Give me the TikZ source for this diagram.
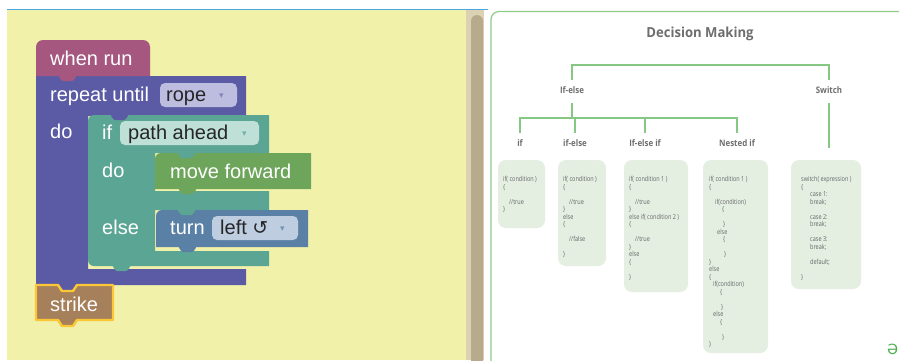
\documentclass[tikz,border=0pt]{standalone}
\usepackage{fontspec}
\newfontfamily\blk{Liberation Sans}
\newfontfamily\dejavu{DejaVu Sans}
\newfontfamily\otitle[FakeStretch=0.95]{Open Sans}
\newfontfamily\olab[FakeStretch=0.88]{Open Sans}
\newfontfamily\ocode[FakeStretch=0.8]{Open Sans}

\definecolor{workspace}{HTML}{F1F1AA}
\definecolor{topline}{HTML}{49A7DD}
\definecolor{track}{HTML}{DDD1B3}
\definecolor{thumb}{HTML}{B8AA8D}
\definecolor{hatc}{HTML}{A5577F}
\definecolor{loopc}{HTML}{5B5BA5}
\definecolor{logicc}{HTML}{5BA594}
\definecolor{movec}{HTML}{6DA55A}
\definecolor{turnc}{HTML}{5B80A5}
\definecolor{strikec}{HTML}{A5805B}
\definecolor{glow}{HTML}{FBC734}
\definecolor{loopdd}{HTML}{BDBDE0}
\definecolor{logicdd}{HTML}{BEE0D6}
\definecolor{turndd}{HTML}{BECEE0}
\definecolor{treeg}{HTML}{86C783}
\definecolor{frameg}{HTML}{8DCC89}
\definecolor{boxg}{HTML}{E4EFE2}
\definecolor{codegray}{HTML}{666666}
\definecolor{titlegray}{HTML}{6E6E6E}
\definecolor{markg}{HTML}{4CAF50}

% connection tab hanging below a block edge
\newcommand\btab[3]{\fill[#1, rounded corners=1.5pt] (#2,#3-0.8) -- ++(4,6) -- ++(11,0) -- ++(4,-6) -- cycle;}
% one line of a code card: x, line index, text
\newcounter{cln}
\newcommand\cl[3]{\stepcounter{cln}\node[codetxt] (code\arabic{cln}) at (#1,{181.5+7.5*#2}) {#3};}

\begin{document}
\begin{tikzpicture}[x=1pt,y=-1pt,
  blocktext/.style={font=\blk\fontsize{20}{20}\selectfont, text=white, anchor=base west, inner sep=0},
  ddtext/.style={font=\blk\fontsize{20}{20}\selectfont, text=black!85, anchor=base west, inner sep=0},
  ddarrow/.style={font=\dejavu\fontsize{9}{9}\selectfont, anchor=base west, inner sep=0},
  dropdown/.style={rounded corners=5pt},
  tree/.style={draw=treeg, line width=1.2pt},
  lbl/.style={font=\olab\bfseries\fontsize{9}{9}\selectfont, text=titlegray, anchor=base,
              text height=6pt, text depth=2pt, inner xsep=1pt, inner ysep=7.5pt},
  codebox/.style={fill=boxg, rounded corners=8pt},
  codetxt/.style={font=\ocode\fontsize{6.9}{7}\selectfont, text=codegray, anchor=base west, inner sep=0}
]
\useasboundingbox (0,0) rectangle (899,360);
\clip (0,0) rectangle (899,360);
\fill[white] (0,0) rectangle (899,360);

% ---------- block workspace ----------
\fill[workspace] (7,10) rectangle (466,360);
\fill[track] (466,10) rectangle (484,360);
\fill[thumb, rounded corners=6pt] (471,15) rectangle (483,372);
\draw[topline, line width=1.2pt] (7,9.5) -- (488,9.5);

% repeat until (C-shaped)
\fill[loopc] (36,76) -- (246,76) -- (246,116) -- (88,116) -- (88,269) -- (246,269) -- (246,285) -- (36,285) -- cycle;
% when run (hat)
\fill[hatc] (36,76) [rounded corners=7pt] -- (36,40) -- (150,40) [sharp corners] -- (150,76) -- cycle;
\btab{hatc}{58}{76}

% if / else (E-shaped)
\fill[logicc] (88,140) [rounded corners=6pt] -- (88,115) -- (130,115) [sharp corners] -- (269,115) -- (269,153) -- (155,153)
  -- (155,191) -- (269,191) -- (269,210) -- (155,210) -- (155,251) -- (269,251) -- (269,266)
  [rounded corners=6pt] -- (88,266) [sharp corners] -- (88,230) -- cycle;
\btab{loopc}{110}{115}

% move forward
\fill[movec] (155,189) [rounded corners=6pt] -- (155,153) -- (200,153) [sharp corners] -- (311,153) -- (311,189) -- cycle;
\btab{logicc}{177}{153}
\btab{movec}{178}{189}

% turn
\fill[turnc] (156,247) [rounded corners=6pt] -- (156,210) -- (200,210) [sharp corners] -- (308,210) -- (308,247) -- cycle;
\btab{logicc}{177}{210}
\btab{turnc}{178}{247}
\btab{logicc}{112}{266}

% strike (selected)
\btab{loopc}{58}{285}
\filldraw[fill=strikec, draw=glow, line width=2.4pt, line join=round]
  (36,285) -- (58,285) -- (62,291) -- (73,291) -- (77,285) -- (113,285) -- (113,320)
  -- (77,320) -- (73,326) -- (62,326) -- (58,320) -- (36,320) -- cycle;

% dropdown fields
\fill[loopdd, dropdown] (160,83) rectangle (237,107);
\fill[logicdd, dropdown] (120,121) rectangle (259,145);
\fill[turndd, dropdown] (212,216) rectangle (298,240);

% block labels
\node[blocktext] (whenrun) at (50,65.5) {when run};
\node[blocktext] (repeat) at (50,101) {repeat until};
\node[ddtext] (rope) at (166,101.5) {rope};
\node[ddarrow, text=loopc!75] (ropearrow) at (219,98.5) {▾};
\node[blocktext] (loopdo) at (50,138) {do};
\node[blocktext] (iflbl) at (102,139.5) {if};
\node[ddtext] (path) at (128,139.5) {path ahead};
\node[ddarrow, text=logicc!85] (patharrow) at (242,136.5) {▾};
\node[blocktext] (ifdo) at (102,177) {do};
\node[blocktext] (move) at (170,178) {move forward};
\node[blocktext] (elselbl) at (102,234.5) {else};
\node[blocktext] (turn) at (170,234.5) {turn};
\node[ddtext] (left) at (220,234.5) {left {\dejavu\fontsize{19}{19}\selectfont ↺}};
\node[ddarrow, text=turnc!85] (leftarrow) at (280,231.5) {▾};
\node[blocktext] (strike) at (50,311) {strike};

% ---------- decision making chart ----------
\draw[frameg, line width=1.2pt, rounded corners=8pt] (491,11.5) rectangle (915,375);
\node[font=\otitle\bfseries\fontsize{13.8}{14}\selectfont, text=titlegray, anchor=base, inner sep=0] (title) at (700,37.5) {Decision Making};

\node[lbl] (ifelse) at (572,93.5) {If-else};
\node[lbl] (switch) at (829,93.5) {Switch};
\node[lbl] (c1) at (520,146.5) {if};
\node[lbl] (c2) at (575,146.5) {if-else};
\node[lbl] (c3) at (645,146.5) {If-else if};
\node[lbl] (c4) at (737,146.5) {Nested if};
\coordinate (topbar) at (0,65);
\coordinate (midbar) at (0,118);
\coordinate (swend) at (0,148);

\draw[tree] (ifelse.north) |- (topbar -| switch.north) -- (switch.north);
\draw[tree] (ifelse.south) -- (ifelse.south |- midbar);
\draw[tree] (c1.north) |- (midbar -| c4.north) -- (c4.north);
\draw[tree] (c2.north) -- (c2.north |- midbar);
\draw[tree] (c3.north) -- (c3.north |- midbar);
\draw[tree] (switch.south) -- (switch.south |- swend);

% code cards
\fill[codebox] (498,160) rectangle (545,228);
\fill[codebox] (558,160) rectangle (606,266);
\fill[codebox] (624,160) rectangle (688,292);
\fill[codebox] (703,160) rectangle (768,353);
\fill[codebox] (791,160) rectangle (861,289);

\cl{503}{0}{if( condition )}
\cl{503}{1}{\{}
\cl{509}{3}{//true}
\cl{503}{4}{\}}

\cl{563}{0}{if( condition )}
\cl{563}{1}{\{}
\cl{569}{3}{//true}
\cl{563}{4}{\}}
\cl{563}{5}{else}
\cl{563}{6}{\{}
\cl{569}{8}{//false}
\cl{563}{10}{\}}

\cl{629}{0}{if( condition 1 )}
\cl{629}{1}{\{}
\cl{635}{3}{//true}
\cl{629}{4}{\}}
\cl{629}{5}{else if( condition 2 )}
\cl{629}{6}{\{}
\cl{635}{8}{//true}
\cl{629}{9}{\}}
\cl{629}{10}{else}
\cl{629}{11}{\{}
\cl{629}{13}{\}}

\cl{709}{0}{if( condition 1 )}
\cl{709}{1}{\{}
\cl{715}{3}{if(condition)}
\cl{722}{4}{\{}
\cl{723}{6}{\}}
\cl{717}{7}{else}
\cl{723}{8}{\{}
\cl{724}{10}{\}}
\cl{709}{11}{\}}
\cl{709}{12}{else}
\cl{709}{13}{\{}
\cl{713}{14}{if(condition)}
\cl{720}{15}{\{}
\cl{721}{17}{\}}
\cl{713}{18}{else}
\cl{720}{19}{\{}
\cl{722}{21}{\}}
\cl{709}{22}{\}}

\cl{801}{0}{switch( expression )}
\cl{801}{1}{\{}
\cl{810}{2}{case 1:}
\cl{810}{3}{break;}
\cl{810}{5}{case 2:}
\cl{810}{6}{break;}
\cl{810}{8}{case 3:}
\cl{810}{9}{break;}
\cl{810}{11}{default;}
\cl{801}{13}{\}}

\node[font=\dejavu\fontsize{14}{14}\selectfont, text=markg, anchor=base west, inner sep=0] (mark) at (887,354) {Ə};
\end{tikzpicture}
\end{document}
